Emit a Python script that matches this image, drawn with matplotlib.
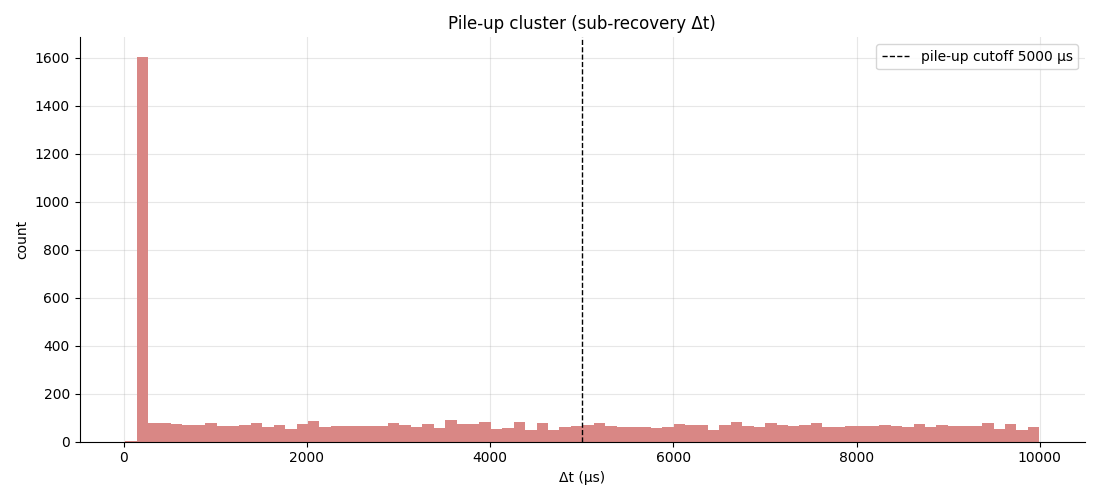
import numpy as np
import matplotlib
matplotlib.use("Agg")
import matplotlib.pyplot as plt

bin_start = 18
bin_end = 9995
counts = [4, 1604, 79, 79, 75, 71, 71, 79, 67, 67,
          71, 79, 63, 71, 54, 75, 87, 63, 67, 67,
          67, 67, 67, 79, 71, 63, 75, 58, 92, 75,
          75, 83, 54, 58, 83, 50, 79, 50, 63, 67,
          71, 79, 67, 63, 63, 63, 58, 63, 75, 71,
          71, 50, 71, 83, 67, 63, 79, 71, 67, 71,
          79, 63, 63, 67, 67, 67, 71, 67, 63, 75,
          63, 71, 67, 67, 67, 79, 54, 75, 50, 63]
cutoff = 5000

edges = np.linspace(bin_start, bin_end, len(counts) + 1)
centers = (edges[:-1] + edges[1:]) / 2

fig, ax = plt.subplots(figsize=(11, 5), dpi=100)
ax.hist(centers, bins=edges, weights=counts, color="#d98785")
ax.axvline(cutoff, color="black", linestyle="--", linewidth=1,
           label=f"pile-up cutoff {cutoff} µs")
ax.set_title("Pile-up cluster (sub-recovery Δt)")
ax.set_xlabel("Δt (µs)")
ax.set_ylabel("count")
ax.grid(True, alpha=0.3)
ax.set_axisbelow(True)
ax.spines["top"].set_visible(False)
ax.spines["right"].set_visible(False)
ax.legend(loc="upper right")
fig.tight_layout()
fig.savefig("out.png")
